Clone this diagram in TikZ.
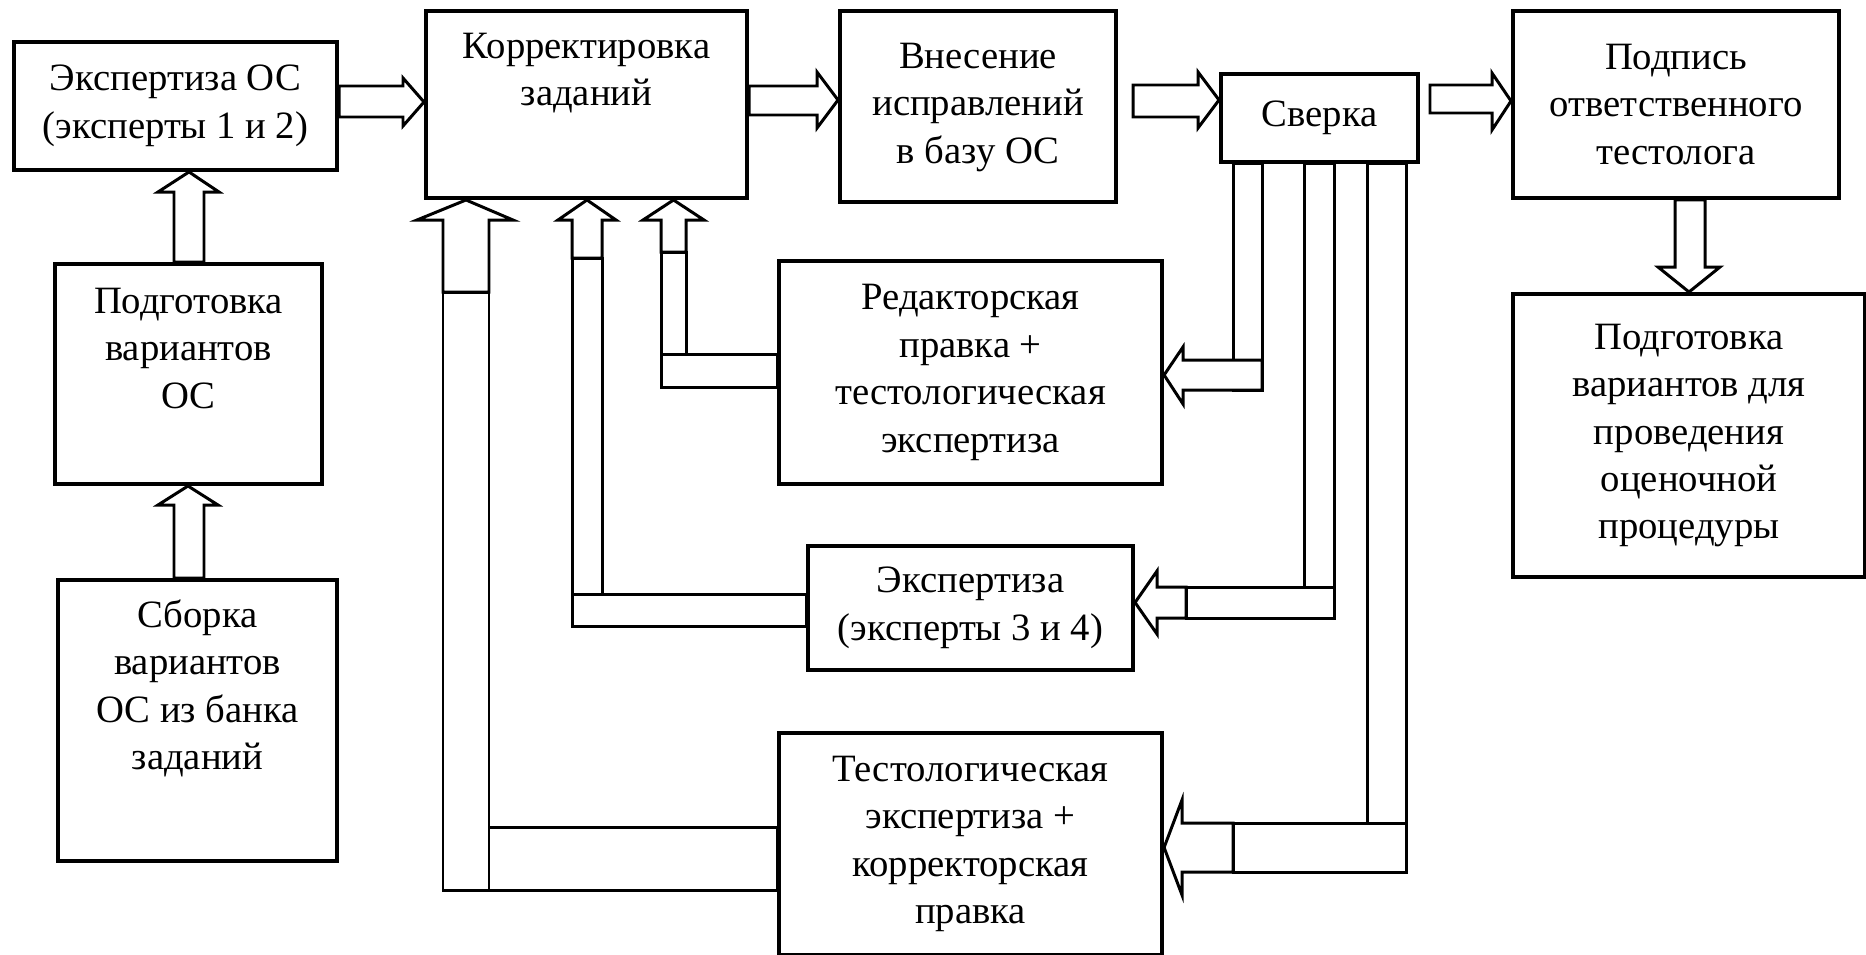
\documentclass[tikz,border=0pt]{standalone}
\usepackage{fontspec}
\setmainfont{Liberation Serif}
\usetikzlibrary{positioning,calc}

\begin{document}
\begin{tikzpicture}[
    x=0.01cm,y=-0.01cm,
    stage/.style={draw,line width=1.1pt,fill=white,anchor=north west,inner sep=0pt,
      align=center,font=\fontsize{11}{13.5}\selectfont},
    stagetxt/.style={inner sep=0pt,align=center,font=\fontsize{11}{13.5}\selectfont},
    flow/.style={draw,fill=white,line width=0.85pt,line join=miter}
  ]
  \useasboundingbox (0,0) rectangle (1866,954);

  % blocks
  \node[stage,minimum width=3.23cm,minimum height=1.28cm] (eksp) at (12,40) {Экспертиза ОС\\(эксперты 1 и 2)};
  \node[stage,minimum width=3.21cm,minimum height=1.87cm] (korr) at (424,9) {};
  \node[stagetxt,below=0.23cm of korr.north] (korrtxt) {Корректировка\\заданий};
  \node[stage,minimum width=2.76cm,minimum height=1.91cm] (vnes) at (838,9) {};
  \node[stagetxt,below=0.33cm of vnes.north] (vnestxt) {Внесение\\исправлений\\в базу ОС};
  \node[stage,minimum width=1.97cm,minimum height=0.88cm] (sverka) at (1219,72) {Сверка};
  \node[stage,minimum width=3.26cm,minimum height=1.87cm] (podpis) at (1511,9) {Подпись\\ответственного\\тестолога};
  \node[stage,minimum width=3.52cm,minimum height=2.83cm] (podg2) at (1511,292) {Подготовка\\вариантов для\\проведения\\оценочной\\процедуры};
  \node[stage,minimum width=2.67cm,minimum height=2.20cm] (podg) at (53,262) {};
  \node[stagetxt,below=0.25cm of podg.north] (podgtxt) {Подготовка\\вариантов\\ОС};
  \node[stage,minimum width=2.79cm,minimum height=2.81cm] (sborka) at (56,578) {};
  \node[stagetxt,below=0.21cm of sborka.north] (sborkatxt) {Сборка\\вариантов\\ОС из банка\\заданий};
  \node[stage,minimum width=3.83cm,minimum height=2.23cm] (redakt) at (777,259) {Редакторская\\правка +\\тестологическая\\экспертиза};
  \node[stage,minimum width=3.25cm,minimum height=1.24cm] (eksp34) at (806,544) {Экспертиза\\(эксперты 3 и 4)};
  \node[stage,minimum width=3.83cm,minimum height=2.22cm] (testol) at (777,731) {Тестологическая\\экспертиза +\\корректорская\\правка};

  % main line
  \draw[flow] (eksp.east |- 0,86) -- (403,86) -- (403,78) -- (korr.west |- 0,102) -- (403,126) -- (403,117) -- (eksp.east |- 0,117) -- cycle;
  \draw[flow] (korr.east |- 0,86) -- (817,86) -- (817,72) -- (vnes.west |- 0,100) -- (817,128) -- (817,115) -- (korr.east |- 0,115) -- cycle;
  \draw[flow] ($(vnes.east |- 0,85)+(15,0)$) -- (1198,85) -- (1198,72) -- (sverka.west |- 0,100) -- (1198,128) -- (1198,117) -- ($(vnes.east |- 0,117)+(15,0)$) -- cycle;
  \draw[flow] ($(sverka.east |- 0,85)+(10,0)$) -- (1492,85) -- (1492,73) -- (podpis.west |- 0,101) -- (1492,130) -- (1492,113) -- ($(sverka.east |- 0,113)+(10,0)$) -- cycle;
  \draw[flow] (1675,0 |- podpis.south) -- (1675,267) -- (1658,267) -- (1689,0 |- podg2.north) -- (1720,267) -- (1705,267) -- (1705,0 |- podpis.south) -- cycle;

  % left column
  \draw[flow] (174,0 |- podg.north) -- (174,192) -- (158,192) -- (189,0 |- eksp.south) -- (219,192) -- (204,192) -- (204,0 |- podg.north) -- cycle;
  \draw[flow] (174,0 |- sborka.north) -- (174,505) -- (158,505) -- (188,0 |- podg.south) -- (218,505) -- (204,505) -- (204,0 |- sborka.north) -- cycle;

  % back to korr
  \draw[flow] (489,827) rectangle (testol.west |- 0,890);
  \draw[flow] (443,292) rectangle (489,890);
  \draw[flow] (443,292) -- (443,220) -- (417,220) -- (466,0 |- korr.south) -- (513,220) -- (489,220) -- (489,292) -- cycle;

  \draw[flow] (572,258) rectangle (602,626);
  \draw[flow] (572,594) rectangle (eksp34.west |- 0,626);
  \draw[flow] (572,258) -- (572,220) -- (558,220) -- (587,0 |- korr.south) -- (616,220) -- (602,220) -- (602,258) -- cycle;

  \draw[flow] (661,252) rectangle (686,387);
  \draw[flow] (661,354) rectangle (redakt.west |- 0,387);
  \draw[flow] (661,252) -- (661,220) -- (643,220) -- (673.5,0 |- korr.south) -- (704,220) -- (686,220) -- (686,252) -- cycle;

  % out of sverka
  \draw[flow] (1233,0 |- sverka.south) rectangle (1262,390);
  \draw[flow] (1262,360) -- (1183,360) -- (1183,347) -- (redakt.east |- 0,375) -- (1183,404) -- (1183,390) -- (1262,390) -- cycle;

  \draw[flow] (1304,0 |- sverka.south) rectangle (1334,618);
  \draw[flow] (1186,587) rectangle (1334,618);
  \draw[flow] (1186,587) -- (1157,587) -- (1157,571) -- (eksp34.east |- 0,602.5) -- (1157,634) -- (1157,618) -- (1186,618) -- cycle;

  \draw[flow] (1367,0 |- sverka.south) rectangle (1406,872);
  \draw[flow] (1233,823) rectangle (1406,872);
  \draw[flow] (1233,823) -- (1182,823) -- (1182,800) -- (testol.east |- 0,847.5) -- (1182,895) -- (1182,872) -- (1233,872) -- cycle;
\end{tikzpicture}
\end{document}
